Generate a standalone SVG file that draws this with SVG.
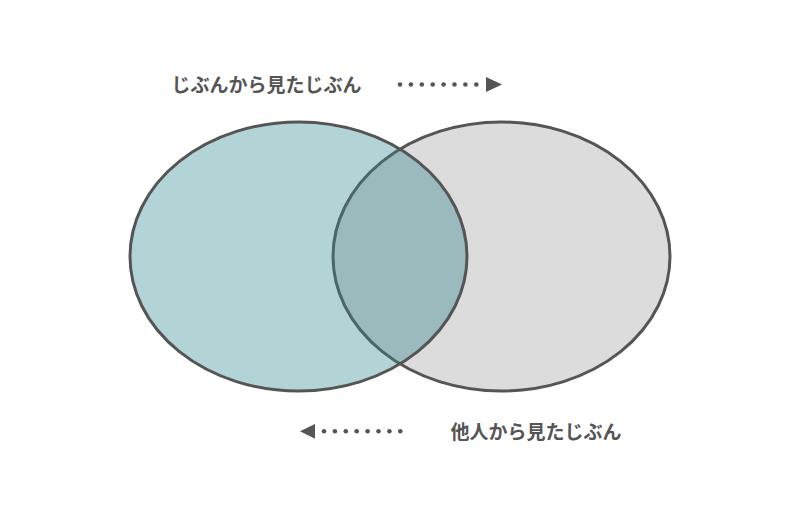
<svg xmlns="http://www.w3.org/2000/svg" width="800" height="514" viewBox="0 0 800 514">
<style>
.lbl{font-family:"Noto Sans CJK JP","Noto Sans",sans-serif;font-weight:bold;font-size:19px;fill:#555555}
.dot{fill:#555555}
</style>
<defs>
<clipPath id="clipL"><ellipse cx="298.5" cy="256.5" rx="168.5" ry="134.5"/></clipPath>
</defs>
<rect width="800" height="514" fill="#ffffff"/>
<g id="node-other">
<ellipse cx="501.5" cy="256.5" rx="168.5" ry="134.5" fill="#dcdcdc" stroke="#555555" stroke-width="3"/>
</g>
<g id="node-self">
<ellipse cx="298.5" cy="256.5" rx="168.5" ry="134.5" fill="#b3d4d7"/>
<g clip-path="url(#clipL)">
<ellipse cx="501.5" cy="256.5" rx="168.5" ry="134.5" fill="#9bbabd" stroke="#4b6668" stroke-width="3"/>
</g>
<ellipse cx="298.5" cy="256.5" rx="168.5" ry="134.5" fill="none" stroke="#555555" stroke-width="3"/>
</g>
<g id="label-self">
<text class="lbl" x="171.5" y="92">じぶんから見たじぶん</text>
</g>
<g id="label-other">
<text class="lbl" x="450.5" y="439">他人から見たじぶん</text>
</g>
<g id="connectors">
<g id="arrow-right">
<circle class="dot" cx="400" cy="84.5" r="2.3"/>
<circle class="dot" cx="410.9" cy="84.5" r="2.3"/>
<circle class="dot" cx="421.8" cy="84.5" r="2.3"/>
<circle class="dot" cx="432.7" cy="84.5" r="2.3"/>
<circle class="dot" cx="443.6" cy="84.5" r="2.3"/>
<circle class="dot" cx="454.5" cy="84.5" r="2.3"/>
<circle class="dot" cx="465.4" cy="84.5" r="2.3"/>
<circle class="dot" cx="476.3" cy="84.5" r="2.3"/>
<polygon class="dot" points="486,77 502,84.5 486,92"/>
</g>
<g id="arrow-left">
<circle class="dot" cx="324" cy="431.3" r="2.3"/>
<circle class="dot" cx="334.9" cy="431.3" r="2.3"/>
<circle class="dot" cx="345.8" cy="431.3" r="2.3"/>
<circle class="dot" cx="356.7" cy="431.3" r="2.3"/>
<circle class="dot" cx="367.6" cy="431.3" r="2.3"/>
<circle class="dot" cx="378.5" cy="431.3" r="2.3"/>
<circle class="dot" cx="389.4" cy="431.3" r="2.3"/>
<circle class="dot" cx="400.3" cy="431.3" r="2.3"/>
<polygon class="dot" points="315,424 300,431.3 315,438.7"/>
</g>
</g>
</svg>
